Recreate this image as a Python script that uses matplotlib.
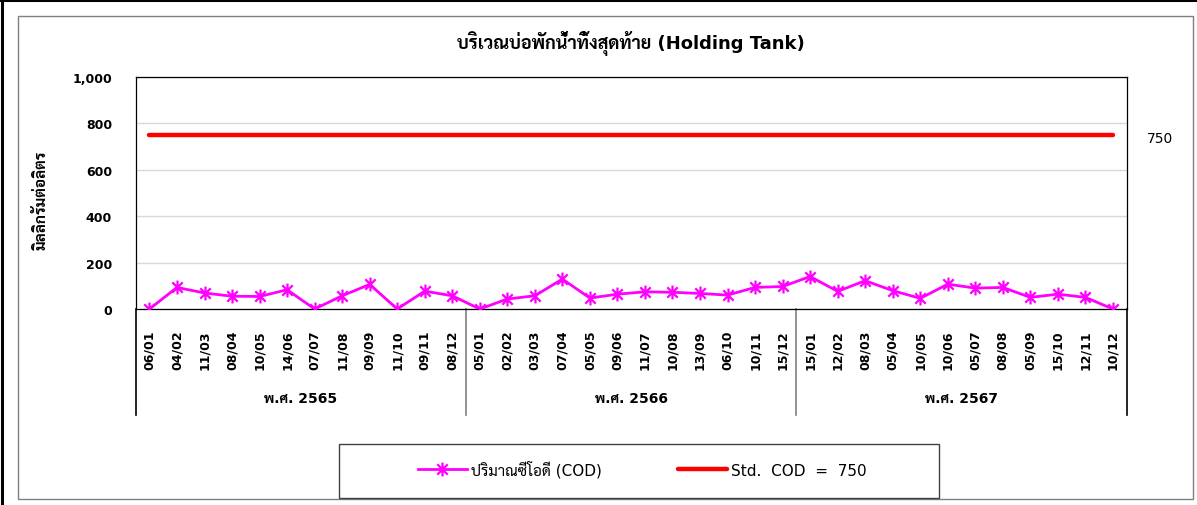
import matplotlib
matplotlib.use("Agg")
import matplotlib.pyplot as plt
from matplotlib import font_manager
from matplotlib.lines import Line2D
from matplotlib.patches import Rectangle
from matplotlib.path import Path
import matplotlib.transforms as mtransforms

# ข้อมูล
dates_2565 = ["06/01", "04/02", "11/03", "08/04", "10/05", "14/06",
              "07/07", "11/08", "09/09", "11/10", "09/11", "08/12"]
dates_2566 = ["05/01", "02/02", "03/03", "07/04", "05/05", "09/06",
              "11/07", "10/08", "13/09", "06/10", "10/11", "15/12"]
dates_2567 = ["15/01", "12/02", "08/03", "05/04", "10/05", "10/06",
              "05/07", "08/08", "05/09", "15/10", "12/11", "10/12"]
cod_2565 = [0, 93, 69, 55, 54, 83, 0, 57, 106, 0, 77, 57]
cod_2566 = [0, 43, 57, 129, 47, 64, 74, 72, 67, 60, 93, 97]
cod_2567 = [140, 76, 122, 79, 46, 107, 90, 93, 50, 64, 50, 0]
years = ["พ.ศ. 2565", "พ.ศ. 2566", "พ.ศ. 2567"]
std_cod = 750

labels = dates_2565 + dates_2566 + dates_2567
cod = cod_2565 + cod_2566 + cod_2567
x = list(range(len(labels)))
std_line = [std_cod] * len(labels)

# ฟอนต์ภาษาไทย
names = {f.name for f in font_manager.fontManager.ttflist}
thai = next((n for n in ["Sarabun", "Noto Sans Thai Looped", "Noto Sans Thai",
                         "Bai Jamjuree"] if n in names), "DejaVu Sans")
plt.rcParams["font.family"] = ["DejaVu Sans", thai]

W, H = 1197, 506
fig = plt.figure(figsize=(W / 100, H / 100), dpi=100)

# พื้นที่กราฟ (พิกเซล)
L, R, T, B = 135.7, 1126.7, 78, 310
ax = fig.add_axes([L / W, 1 - B / H, (R - L) / W, (B - T) / H])

# เครื่องหมายดอกจันแบบ Excel
star = Path([(0, -1), (0, 1), (-0.75, -0.75), (0.75, 0.75), (-0.75, 0.75), (0.75, -0.75)],
            [Path.MOVETO, Path.LINETO] * 3)

ax.plot(x, std_line, color="#ff0000", lw=3.2, solid_capstyle="round", zorder=3)
ax.plot(x, cod, color="#ff00ff", lw=2, marker=star, markersize=10,
        markeredgewidth=1.6, markeredgecolor="#ff00ff", markerfacecolor="#ff00ff", zorder=4)

ax.set_xlim(-0.5, len(labels) - 0.5)
ax.set_ylim(0, 1000)
ax.set_yticks([0, 200, 400, 600, 800, 1000])
ax.set_yticklabels(["0", "200", "400", "600", "800", "1,000"], fontsize=9, fontweight="bold")
ax.set_xticks(x)
ax.set_xticklabels(labels, rotation=90, fontsize=9, fontweight="bold")
ax.tick_params(axis="both", length=0)
ax.tick_params(axis="x", pad=15)
ax.tick_params(axis="y", pad=17)
ax.grid(axis="y", color="#d9d9d9", lw=1)
ax.set_axisbelow(True)
for s in ax.spines.values():
    s.set_color("black")
    s.set_linewidth(0.9)

ax.set_ylabel("มิลลิกรัมต่อลิตร", fontsize=11, fontweight="bold")
ax.yaxis.set_label_coords((48 - L) / (R - L), (B - 200) / (B - T))

# ค่าเกณฑ์ 750 ด้านขวา
ax.annotate(str(std_cod), xy=(x[-1], std_cod), xytext=(34, -2), textcoords="offset points",
            ha="center", va="center", fontsize=10)

# แกน x แบบกลุ่มตามปี
trans = mtransforms.blended_transform_factory(ax.transData, ax.transAxes)
y_end = (B - 416) / (B - T)
n = len(dates_2565)
for i in range(len(years) + 1):
    xb = i * n - 0.5
    c = "black" if i in (0, len(years)) else "#808080"
    ax.add_line(Line2D([xb, xb], [0, y_end], transform=trans, color=c, lw=1.2, clip_on=False))
for i, yr in enumerate(years):
    ax.text(i * n + (n - 1) / 2, (B - 399) / (B - T), yr, transform=trans, ha="center",
            va="center", fontsize=10, fontweight="bold")

fig.text(631 / W, 1 - 44 / H, "บริเวณบ่อพักน้ำทิ้งสุดท้าย (Holding Tank)", ha="center",
         va="center", fontsize=13, fontweight="bold")

# กรอบรูป
fig.add_artist(Rectangle((18 / W, 1 - 500 / H), (1193 - 18) / W, (500 - 17) / H,
                         transform=fig.transFigure, fill=False, edgecolor="#7f7f7f", lw=1))
fig.add_artist(Line2D([1.5 / W, 1.5 / W], [0, 1], transform=fig.transFigure, color="black", lw=2.2))
fig.add_artist(Line2D([0, 1], [1 - 1 / H, 1 - 1 / H], transform=fig.transFigure, color="black", lw=2.2))

# คำอธิบายสัญลักษณ์
fig.add_artist(Rectangle((338.7 / W, 1 - 499 / H), 600 / W, 54 / H,
                         transform=fig.transFigure, fill=False, edgecolor="#404040", lw=1))
handles = [Line2D([], [], color="#ff00ff", lw=2, marker=star, markersize=10, markeredgewidth=1.6),
           Line2D([], [], color="#ff0000", lw=3.2, solid_capstyle="round")]
fig.legend(handles, ["ปริมาณซีโอดี (COD)", "Std.  COD  =  750"], ncol=2, loc="center",
           bbox_to_anchor=(642 / W, 1 - 470 / H), frameon=False, fontsize=11,
           handlelength=3.2, handletextpad=0.25, columnspacing=5.0, numpoints=1)

fig.savefig("out.png", dpi=100)
